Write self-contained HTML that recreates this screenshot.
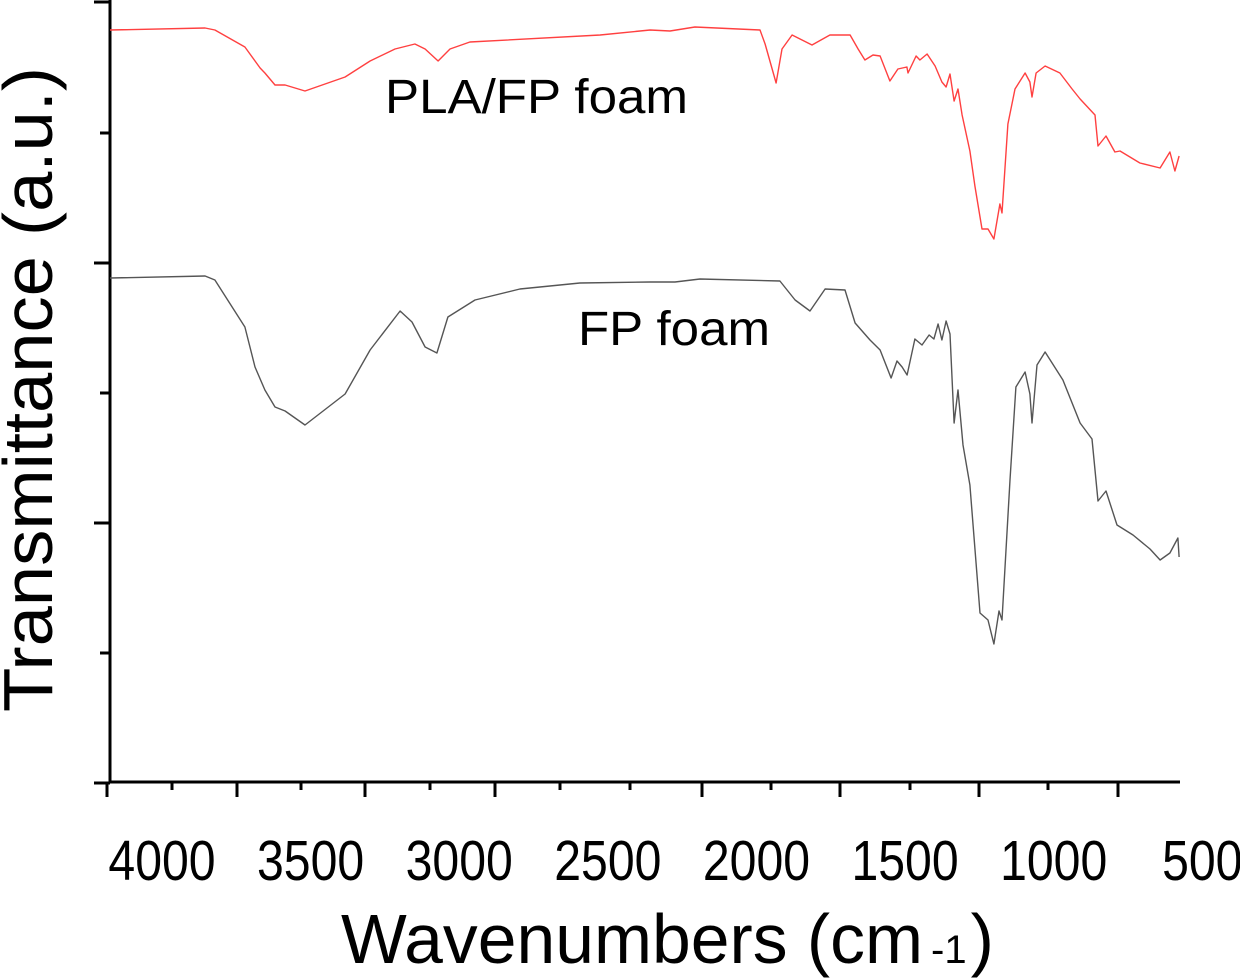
<!DOCTYPE html>
<html><head><meta charset="utf-8"><style>
html,body{margin:0;padding:0;background:#fff;}
svg{display:block;font-family:"Liberation Sans",Arial,sans-serif;}
</style></head><body>
<svg id="chart" width="1240" height="979" viewBox="0 0 1240 979" xmlns="http://www.w3.org/2000/svg">
<g id="axes"></g>
<g id="series"></g>
<g id="labels"></g>
</svg>
<script>
const xTickValues = [4000,3500,3000,2500,2000,1500,1000,500];
const xTickLabels = ["4000","3500","3000","2500","2000","1500","1000","500"];
const seriesNames = ["PLA/FP foam","FP foam"];
const plaWavenumbers = [4000,3680,3647,3546,3495,3479,3445,3411,3344,3209,3125,3041,2974,2940,2896,2856,2789,2351,2183,2116,2032,1813,1796,1759,1739,1705,1638,1578,1510,1483,1460,1433,1409,1376,1349,1319,1315,1288,1275,1251,1224,1201,1187,1174,1160,1147,1133,1107,1090,1066,1046,1026,1006,999,979,955,921,905,898,884,854,804,763,736,686,676,649,619,602,535,467,434,417,403];
const plaValues = [752,754,752,735,714,709,697,697,691,705,721,733,738,733,721,733,740,747,752,751,755,752,738,699,733,747,737,747,747,733,722,727,726,701,713,715,709,726,722,728,716,700,695,708,681,693,667,631,596,553,553,543,578,569,658,693,709,700,685,709,716,709,693,683,667,636,646,630,631,619,614,630,611,626];
const fpWavenumbers = [4000,3680,3647,3546,3512,3479,3445,3411,3344,3209,3125,3024,2984,2940,2900,2863,2772,2621,2419,2183,2099,2015,1746,1695,1645,1594,1527,1493,1443,1409,1372,1352,1335,1318,1292,1268,1244,1228,1214,1201,1187,1174,1160,1147,1130,1107,1073,1046,1026,1009,999,972,952,921,905,898,881,854,794,736,696,676,649,612,558,501,467,434,407,403];
const fpValues = [504,506,502,455,415,392,375,371,357,388,432,471,460,435,429,465,482,493,499,500,500,503,501,482,471,493,492,459,442,432,404,421,415,407,443,437,447,443,458,442,461,448,359,392,337,297,169,162,138,171,162,302,395,410,388,359,417,430,402,359,343,281,291,257,247,233,222,229,244,225];

const NS="http://www.w3.org/2000/svg";
const X0=110,X1=1180,Y0=782,Y1=2;
function xScale(w){return X0+(4000-w)/3600*(X1-X0);}
function yScale(v){return Y0-v/780*(Y0-Y1);}
function mk(tag,attrs,parent){const e=document.createElementNS(NS,tag);for(const k in attrs)e.setAttribute(k,attrs[k]);parent.appendChild(e);return e;}

const axes=document.getElementById('axes');
const ax=mk('path',{d:`M${X0} 0V${Y0}H${X1}`,fill:'none',stroke:'#000','stroke-width':3},axes);


// y ticks (outward left)
let yd='';
[2,263,523,783].forEach(y=>{yd+=`M${X0} ${y}H${X0-16}`;});
[133,393,653].forEach(y=>{yd+=`M${X0} ${y}H${X0-10}`;});
const yt=mk('path',{d:yd,stroke:'#000','stroke-width':3},axes);


// x ticks (outward down)
let xd='';
[107,237,365,495,702,840,979,1118].forEach(x=>{xd+=`M${x} ${Y0}V${Y0+15}`;});
[172,301,430,560,630,771,910,1048].forEach(x=>{xd+=`M${x} ${Y0}V${Y0+8}`;});
const xt=mk('path',{d:xd,stroke:'#000','stroke-width':3},axes);



const labels=document.getElementById('labels');
xTickValues.forEach((v,i)=>{
  const t=mk('text',{x:xScale(v)+52,y:880,'text-anchor':'middle','font-size':57,textLength:xTickLabels[i].length*26.8,lengthAdjust:'spacingAndGlyphs'},labels);
  t.textContent=xTickLabels[i];
  
  
});
const xtitle=mk('text',{x:341,y:963,'font-size':70},labels);


const ts1=mk('tspan',{textLength:582,lengthAdjust:'spacingAndGlyphs'},xtitle);ts1.textContent='Wavenumbers (cm';
const ts2=mk('tspan',{dx:8,'font-size':40},xtitle);ts2.textContent='-1';
const ts3=mk('tspan',{dx:4},xtitle);ts3.textContent=')';

const ytitle=mk('text',{x:0,y:0,'font-size':70,transform:'translate(52,712) rotate(-90)',textLength:645,lengthAdjust:'spacingAndGlyphs'},labels);
ytitle.textContent='Transmittance (a.u.)';



const series=document.getElementById('series');
function line(ws,vs,color,name){
  const d=ws.map((w,i)=>(i?'L':'M')+xScale(w).toFixed(1)+' '+yScale(vs[i]).toFixed(1)).join('');
  const p=mk('path',{d:d,fill:'none',stroke:color,'stroke-width':1.4,'stroke-linejoin':'round'},series);
  
  
}
line(plaWavenumbers,plaValues,'#ff4040','pla-fp-foam-spectrum');
line(fpWavenumbers,fpValues,'#555555','fp-foam-spectrum');

const l1=mk('text',{x:385,y:113,'font-size':48,textLength:303,lengthAdjust:'spacingAndGlyphs'},labels);
l1.textContent=seriesNames[0];


const l2=mk('text',{x:578,y:345,'font-size':48,textLength:192,lengthAdjust:'spacingAndGlyphs'},labels);
l2.textContent=seriesNames[1];


</script>
</body></html>
